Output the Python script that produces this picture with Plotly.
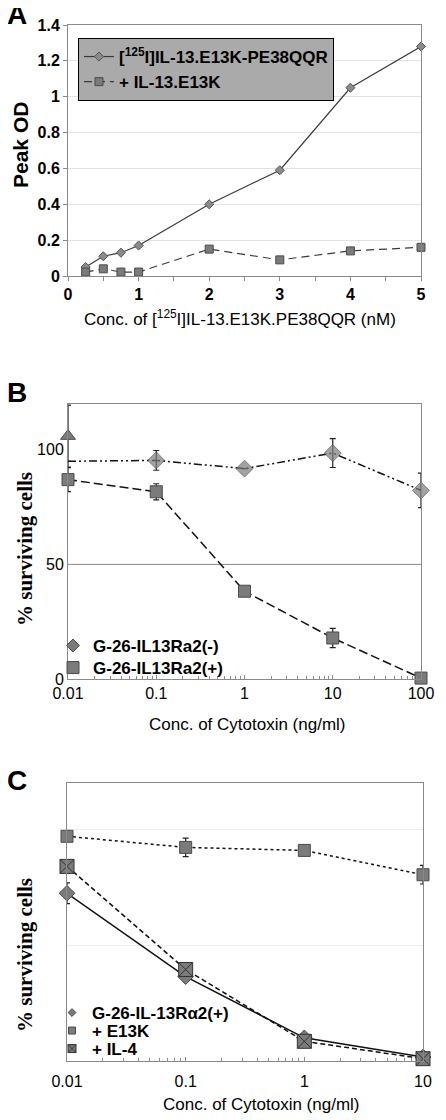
import plotly.graph_objects as go

# ---------- Panel A data ----------
a_conc = [0.25, 0.5, 0.75, 1, 2, 3, 4, 5]
a_tracer = [0.05, 0.11, 0.13, 0.17, 0.40, 0.59, 1.05, 1.28]
a_blocked = [0.022, 0.04, 0.022, 0.022, 0.15, 0.09, 0.14, 0.16]

# ---------- Panel B data ----------
b_conc = [0.01, 0.1, 1, 10, 100]
b_neg = [95, 95.4, 91.8, 98.6, 82.3]
b_neg_err = [0, 4.3, 0, 6.3, 7.5]
b_pos = [87, 81.7, 38.3, 17.9, 0.4]
b_pos_err = [5.2, 3.5, 0, 4.2, 0]
b_tri_conc = [0.01]
b_tri = [106]
b_tri_err = [13.5]
b_ref = 50

# ---------- Panel C data ----------
c_conc = [0.01, 0.1, 1, 10]
c_pos = [72.4, 36.4, 10, 1.7]
c_pos_err = [4.5, 0, 0, 0]
c_e13k = [97, 92.2, 90.9, 80.4]
c_e13k_err = [0, 4, 0, 4]
c_il4 = [84, 39.5, 8.5, 1]

GRAY = "#7b7b7b"
EDGE = "#4a4a4a"
ARIAL = "Liberation Sans"
TIMES = "Liberation Serif"

# page body has an 8px margin -> figure drawn at (8, 8)
OFF = 8
W, H = 446 - OFF, 1120 - OFF
def X(px):
    return (px - OFF) / W
def Y(py):
    return 1 - (py - OFF) / H

fig = go.Figure()

# Panel A
fig.add_trace(go.Scatter(
    x=a_conc, y=a_tracer, mode="lines+markers", name="[<sup>125</sup>I]IL-13.E13K-PE38QQR",
    line=dict(color="#3a3a3a", width=1.2),
    marker=dict(symbol="diamond", size=7, color="#8a8a8a", line=dict(color="#555", width=1)),
    xaxis="x", yaxis="y", legend="legend", cliponaxis=False))
fig.add_trace(go.Scatter(
    x=a_conc, y=a_blocked, mode="lines+markers", name="+ IL-13.E13K",
    line=dict(color="#3a3a3a", width=1.2, dash="8px,5px"),
    marker=dict(symbol="square", size=8, color=GRAY, line=dict(color=EDGE, width=1)),
    xaxis="x", yaxis="y", legend="legend", cliponaxis=False))

# Panel B
fig.add_trace(go.Scatter(
    x=b_tri_conc, y=b_tri, mode="markers", showlegend=False,
    marker=dict(symbol="triangle-up", size=13, color=GRAY, line=dict(color=EDGE, width=1)),
    error_y=dict(type="data", array=b_tri_err, color="#222", thickness=1.2, width=3),
    xaxis="x2", yaxis="y2", cliponaxis=False))
fig.add_trace(go.Scatter(
    x=b_conc, y=b_neg, mode="lines+markers", showlegend=False,
    line=dict(color="#111", width=1.5, dash="8px,3px,2px,3px,2px,3px"),
    marker=dict(symbol="diamond", size=[0, 13, 13, 13, 13], color=GRAY, line=dict(color=EDGE, width=1)),
    error_y=dict(type="data", array=b_neg_err, color="#222", thickness=1.2, width=3),
    xaxis="x2", yaxis="y2", cliponaxis=False))
fig.add_trace(go.Scatter(
    x=b_conc, y=b_pos, mode="lines+markers", showlegend=False,
    line=dict(color="#111", width=1.5, dash="9px,4px"),
    marker=dict(symbol="square", size=12, color=GRAY, line=dict(color=EDGE, width=1)),
    error_y=dict(type="data", array=b_pos_err, color="#222", thickness=1.2, width=3),
    xaxis="x2", yaxis="y2", cliponaxis=False))
# legend entries (marker only, as in the reference)
fig.add_trace(go.Scatter(
    x=[None], y=[None], mode="markers", name="G-26-IL13Ra2(-)",
    marker=dict(symbol="diamond", size=10, color=GRAY, line=dict(color=EDGE, width=1)),
    xaxis="x2", yaxis="y2", legend="legend2"))
fig.add_trace(go.Scatter(
    x=[None], y=[None], mode="markers", name="G-26-IL13Ra2(+)",
    marker=dict(symbol="square", size=12, color=GRAY, line=dict(color=EDGE, width=1)),
    xaxis="x2", yaxis="y2", legend="legend3"))

# Panel C
fig.add_trace(go.Scatter(
    x=c_conc, y=c_pos, mode="lines+markers", showlegend=False,
    line=dict(color="#111", width=1.5),
    marker=dict(symbol="diamond", size=12, color=GRAY, line=dict(color=EDGE, width=1)),
    error_y=dict(type="data", array=c_pos_err, color="#222", thickness=1.2, width=3),
    xaxis="x3", yaxis="y3", cliponaxis=False))
fig.add_trace(go.Scatter(
    x=c_conc, y=c_e13k, mode="lines+markers", showlegend=False,
    line=dict(color="#111", width=1.5, dash="dot"),
    marker=dict(symbol="square", size=12, color=GRAY, line=dict(color=EDGE, width=1)),
    error_y=dict(type="data", array=c_e13k_err, color="#222", thickness=1.2, width=3),
    xaxis="x3", yaxis="y3", cliponaxis=False))
fig.add_trace(go.Scatter(
    x=c_conc, y=c_il4, mode="lines+markers", showlegend=False,
    line=dict(color="#111", width=1.5, dash="5px,3px"),
    marker=dict(symbol="square-x", size=14, color=GRAY, line=dict(color="#333", width=1)),
    xaxis="x3", yaxis="y3", cliponaxis=False))
fig.add_trace(go.Scatter(
    x=[None], y=[None], mode="markers", name="G-26-IL-13R\u03b12(+)",
    marker=dict(symbol="diamond", size=6, color=GRAY, line=dict(color=EDGE, width=1)),
    xaxis="x3", yaxis="y3", legend="legend4"))
fig.add_trace(go.Scatter(
    x=[None], y=[None], mode="markers", name="+ E13K",
    marker=dict(symbol="square", size=7, color=GRAY, line=dict(color=EDGE, width=1)),
    xaxis="x3", yaxis="y3", legend="legend5"))
fig.add_trace(go.Scatter(
    x=[None], y=[None], mode="markers", name="+ IL-4",
    marker=dict(symbol="square-x", size=8, color=GRAY, line=dict(color="#333", width=1)),
    xaxis="x3", yaxis="y3", legend="legend6"))

axis_line = "#8a8a8a"
frame = dict(showline=True, linecolor=axis_line, linewidth=1, mirror=True, automargin=False)

def small_legend(px, py, size):
    return dict(x=X(px), y=Y(py), xanchor="left", yanchor="middle",
                bgcolor="rgba(0,0,0,0)", itemsizing="trace", itemwidth=30,
                font=dict(size=size, weight="bold", family=ARIAL))

fig.update_layout(
    width=W, height=H, autosize=False,
    margin=dict(l=0, r=0, t=0, b=0, pad=0),
    paper_bgcolor="white", plot_bgcolor="white",
    font=dict(family=ARIAL, color="black", size=15),
    xaxis=dict(domain=[X(68), X(421)], range=[0, 5], dtick=1, anchor="y",
               ticks="outside", ticklen=4, tickcolor=axis_line,
               minor=dict(dtick=0.5, ticks="outside", ticklen=4, tickcolor=axis_line),
               showgrid=False, zeroline=False,
               tickfont=dict(size=16, weight="bold"), **frame),
    yaxis=dict(domain=[Y(276), Y(25)], range=[0, 1.4], dtick=0.2, anchor="x",
               ticks="outside", ticklen=4, tickcolor=axis_line,
               showgrid=True, gridcolor="#e2e2e2", zeroline=False,
               tickfont=dict(size=16, weight="bold"), **frame),
    xaxis2=dict(domain=[X(68), X(421)], type="log", range=[-2, 2], anchor="y2",
                tickvals=[0.01, 0.1, 1, 10, 100], ticktext=["0.01", "0.1", "1", "10", "100"],
                ticks="inside", ticklen=4, tickcolor=axis_line,
                minor=dict(ticks="inside", ticklen=3, tickcolor=axis_line, dtick="D1"),
                showgrid=False, zeroline=False, tickfont=dict(size=16), **frame),
    yaxis2=dict(domain=[Y(679), Y(404)], range=[0, 120], anchor="x2",
                tickvals=[0, 50, 100], ticks="", showgrid=False, zeroline=False,
                tickfont=dict(size=16), **frame),
    xaxis3=dict(domain=[X(67), X(423)], type="log", range=[-2, 1], anchor="y3",
                tickvals=[0.01, 0.1, 1, 10], ticktext=["0.01", "0.1", "1", "10"],
                ticks="inside", ticklen=4, tickcolor=axis_line, ticklabelstandoff=6,
                minor=dict(ticks="inside", ticklen=3, tickcolor=axis_line, dtick="D1"),
                showgrid=False, zeroline=False, tickfont=dict(size=16), **frame),
    yaxis3=dict(domain=[Y(1061), Y(783)], range=[0, 120], anchor="x3",
                tickvals=[0, 50, 100], showticklabels=False, ticks="",
                showgrid=True, gridcolor="#ededed", zeroline=False, **frame),
    legend=dict(x=X(78), y=Y(38), xanchor="left", yanchor="top",
                bgcolor="#aaaaaa", bordercolor="black", borderwidth=1,
                font=dict(size=17, weight="bold", family=ARIAL), tracegroupgap=0),
    legend2=small_legend(53, 646, 17),
    legend3=small_legend(53, 668, 17),
    legend4=small_legend(52, 1013, 17),
    legend5=small_legend(52, 1031, 17),
    legend6=small_legend(52, 1049, 17),
    showlegend=True,
)

# 50% reference line in panel B
fig.add_shape(type="line", xref="x2 domain", yref="y2", x0=0, x1=1, y0=b_ref, y1=b_ref,
              line=dict(color="#8a8a8a", width=1), layer="below")

annos = [
    dict(text="<b>A</b>", x=X(17), y=Y(15), font=dict(size=28)),
    dict(text="<b>B</b>", x=X(17), y=Y(392), font=dict(size=28)),
    dict(text="<b>C</b>", x=X(17), y=Y(780), font=dict(size=28)),
    dict(text="<b>Peak OD</b>", x=X(20), y=Y(145), textangle=-90, font=dict(size=21)),
    dict(text="Conc. of [<sup>125</sup>I]IL-13.E13K.PE38QQR (nM)", x=X(240), y=Y(318),
         font=dict(size=17)),
    dict(text="<b>% surviving cells</b>", x=X(25), y=Y(549), textangle=-90,
         font=dict(size=21, family=TIMES)),
    dict(text="Conc. of Cytotoxin (ng/ml)", x=X(247), y=Y(724), font=dict(size=17)),
    dict(text="<b>% surviving cells</b>", x=X(25), y=Y(955), textangle=-90,
         font=dict(size=21, family=TIMES)),
    dict(text="Conc. of Cytotoxin (ng/ml)", x=X(261), y=Y(1104), font=dict(size=17)),
]
for a in annos:
    a.setdefault("xanchor", "center")
    fig.add_annotation(xref="paper", yref="paper", yanchor="middle", showarrow=False, **a)

fig.write_html("out.html")
